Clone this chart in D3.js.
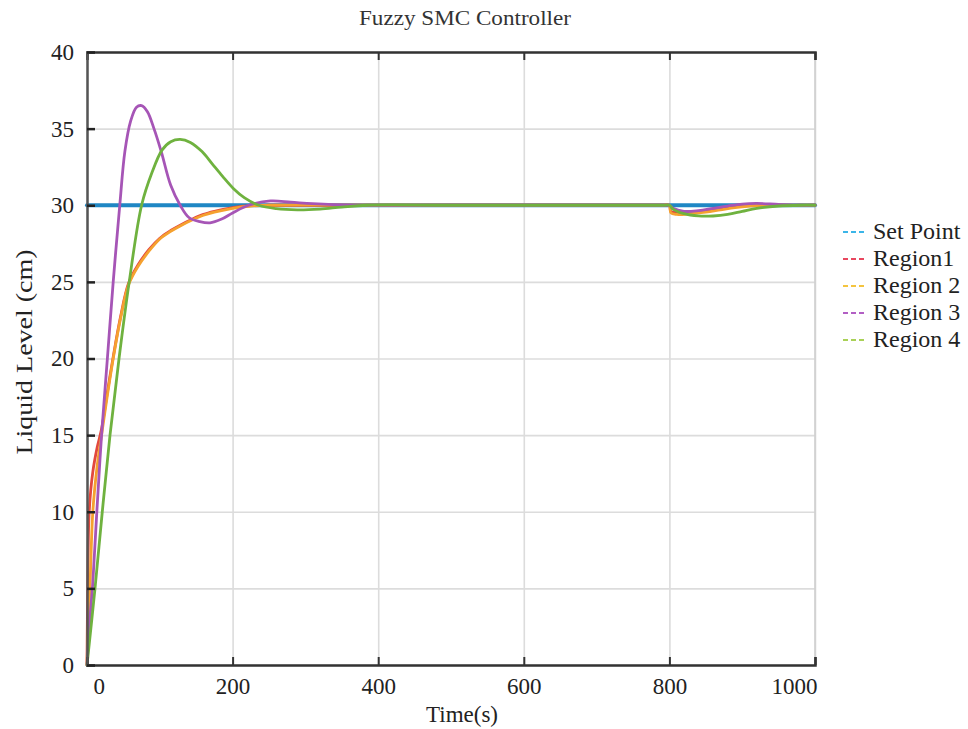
<!DOCTYPE html>
<html>
<head>
<meta charset="utf-8">
<script src="https://cdn.jsdelivr.net/npm/d3@7/dist/d3.min.js"></script>
<style>
  html, body { margin: 0; padding: 0; background: #fff; }
  svg { display: block; }
</style>
</head>
<body>
<svg id="chart" width="968" height="729"></svg>
<script>
// ---- data (time in s, level in cm) ----
const title = "Fuzzy SMC Controller";
const xLabel = "Time(s)";
const yLabel = "Liquid Level (cm)";
const xTicks = [0, 200, 400, 600, 800, 1000];
const yTicks = [0, 5, 10, 15, 20, 25, 30, 35, 40];
const seriesNames = ["Set Point", "Region1", "Region 2", "Region 3", "Region 4"];

const setPoint = [[0, 30], [1000, 30]];

const region1 = [[0, 0], [1, 5], [3, 10], [8, 12.6], [14, 14.2], [20, 15.4], [28, 17.8], [36, 20.1],
  [46, 22.7], [57, 24.9], [70, 26.1], [85, 27.1], [100, 27.85], [115, 28.35], [128, 28.7], [145, 29.1],
  [160, 29.4], [175, 29.6], [200, 29.85], [225, 29.97], [250, 30], [400, 30], [790, 30], [800, 30],
  [802, 29.6], [820, 29.5], [840, 29.55], [860, 29.7], [880, 29.85], [900, 29.95], [920, 30.02], [950, 30], [1000, 30]];

const region2 = [[0, 0], [2, 3], [4, 5], [8, 10], [14, 13], [20, 15], [28, 17.6], [36, 20],
  [46, 22.6], [57, 24.8], [70, 26.0], [85, 27.0], [100, 27.8], [115, 28.3], [128, 28.65], [145, 29.05],
  [160, 29.35], [175, 29.55], [200, 29.8], [225, 29.95], [250, 30], [400, 30], [790, 30], [800, 30],
  [802, 29.5], [810, 29.4], [830, 29.45], [850, 29.55], [870, 29.7], [890, 29.85], [910, 29.95], [930, 30], [1000, 30]];

const region3 = [[0, 0], [4, 3], [8, 5.4], [13.5, 10], [20, 15], [28, 20], [36, 25], [45, 30],
  [52, 33.5], [60, 35.5], [68, 36.4], [75, 36.5], [83, 36.1], [92, 35.0], [102, 33.5], [115, 31.3],
  [128, 30.0], [140, 29.2], [155, 28.93], [169, 28.85], [185, 29.1], [200, 29.5], [222, 30.0],
  [252, 30.28], [280, 30.2], [310, 30.1], [362, 30], [500, 30], [790, 30], [800, 30],
  [805, 29.8], [820, 29.6], [840, 29.65], [860, 29.8], [880, 29.95], [900, 30.08], [920, 30.12], [950, 30.05], [980, 30], [1000, 30]];

const region4 = [[0, 0], [11, 5], [21, 10], [31.6, 15], [44, 20], [58, 25], [75, 30], [89, 32.1],
  [103, 33.6], [115, 34.15], [128, 34.3], [142, 34.1], [158, 33.5], [172, 32.7], [186, 31.9], [201, 31.1],
  [216, 30.5], [236, 30.0], [260, 29.78], [289, 29.7], [320, 29.75], [350, 29.88], [385, 30], [500, 30], [790, 30], [800, 30],
  [805, 29.75], [820, 29.45], [840, 29.3], [860, 29.3], [880, 29.4], [900, 29.6], [920, 29.8], [950, 29.95], [980, 30], [1000, 30]];

const lineColors = ["#1f87c4", "#e2483f", "#f5a12f", "#a655b6", "#6fb23f"];
const legendColors = ["#3bb5e8", "#e8475e", "#f4c43f", "#b25fc4", "#a9d157"];

// ---- layout ----
const svg = d3.select("#chart");
const L = 87, R = 815, T = 52, B = 665;
const x = d3.scaleLinear().domain([0, 1000]).range([L, R]);
const y = d3.scaleLinear().domain([0, 40]).range([B, T]);
const serif = "'Liberation Serif', 'Times New Roman', serif";

// grid
svg.append("g").attr("transform", `translate(0,${B})`)
  .call(d3.axisBottom(x).tickValues(xTicks).tickSize(-(B - T)).tickFormat(""))
  .call(g => g.select(".domain").remove())
  .call(g => g.selectAll("line").attr("stroke", "#dcdcdc").attr("stroke-width", 1.6));
svg.append("g").attr("transform", `translate(${L},0)`)
  .call(d3.axisLeft(y).tickValues(yTicks).tickSize(-(R - L)).tickFormat(""))
  .call(g => g.select(".domain").remove())
  .call(g => g.selectAll("line").attr("stroke", "#dcdcdc").attr("stroke-width", 1.6));

// right border (light)
svg.append("line").attr("x1", R).attr("x2", R).attr("y1", T).attr("y2", B)
  .attr("stroke", "#d0d0d0").attr("stroke-width", 1.6);

// lines
const line = d3.line().x(d => x(d[0])).y(d => y(d[1])).curve(d3.curveCatmullRom.alpha(0.5));
const allSeries = [setPoint, region1, region2, region3, region4];
const widths = [4, 2.8, 2.8, 2.8, 2.8];
[0, 1, 2, 3, 4].forEach(i => {
  svg.append("path").datum(allSeries[i]).attr("d", line)
    .attr("fill", "none").attr("stroke", lineColors[i]).attr("stroke-width", widths[i])
    .attr("stroke-linejoin", "round").attr("stroke-linecap", "round");
});

// axes
const xAxis = svg.append("g").attr("transform", `translate(0,${B})`)
  .call(d3.axisBottom(x).tickValues(xTicks).tickSize(-8).tickPadding(13).tickFormat(d3.format("d")));
xAxis.select(".domain").attr("stroke", "#333").attr("stroke-width", 2.5);
xAxis.selectAll(".tick line").attr("stroke", "#333").attr("stroke-width", 2);
xAxis.selectAll("text").attr("font-family", serif).attr("font-size", 23).attr("fill", "#222");
xAxis.selectAll(".tick").filter(d => d === 0).select("text").attr("text-anchor", "start").attr("dx", 6);
xAxis.selectAll(".tick").filter(d => d === 1000).select("text").attr("text-anchor", "end").attr("dx", 2);

const topAxis = svg.append("g").attr("transform", `translate(0,${T})`)
  .call(d3.axisTop(x).tickValues(xTicks).tickSize(-8).tickFormat(""));
topAxis.select(".domain").attr("stroke", "#333").attr("stroke-width", 2.5);
topAxis.selectAll(".tick line").attr("stroke", "#333").attr("stroke-width", 2);

const yAxis = svg.append("g").attr("transform", `translate(${L},0)`)
  .call(d3.axisLeft(y).tickValues(yTicks).tickSize(-8).tickPadding(13).tickFormat(d3.format("d")));
yAxis.select(".domain").attr("stroke", "#555").attr("stroke-width", 2.5);
yAxis.selectAll(".tick line").attr("stroke", "#222").attr("stroke-width", 2.5);
yAxis.selectAll("text").attr("font-family", serif).attr("font-size", 23).attr("fill", "#222");

// title and labels
svg.append("text").attr("x", 465).attr("y", 25).attr("text-anchor", "middle")
  .attr("font-family", serif).attr("font-size", 22).attr("fill", "#333")
  .attr("textLength", 212).attr("lengthAdjust", "spacingAndGlyphs").text(title);
svg.append("text").attr("x", 462).attr("y", 722).attr("text-anchor", "middle")
  .attr("font-family", serif).attr("font-size", 23).attr("fill", "#222").text(xLabel);
svg.append("text").attr("transform", "translate(32,352) rotate(-90)").attr("text-anchor", "middle")
  .attr("font-family", serif).attr("font-size", 23).attr("fill", "#222")
  .attr("textLength", 205).attr("lengthAdjust", "spacingAndGlyphs").text(yLabel);

// legend
const lg = svg.append("g");
seriesNames.forEach((name, i) => {
  const yy = 232 + i * 27;
  lg.append("line").attr("x1", 843).attr("x2", 866).attr("y1", yy).attr("y2", yy)
    .attr("stroke", legendColors[i]).attr("stroke-width", 2.2).attr("stroke-dasharray", "5,3");
  lg.append("text").attr("x", 873).attr("y", yy + 7).attr("font-family", serif)
    .attr("font-size", 24).attr("fill", "#222").text(name);
});
</script>
</body>
</html>
